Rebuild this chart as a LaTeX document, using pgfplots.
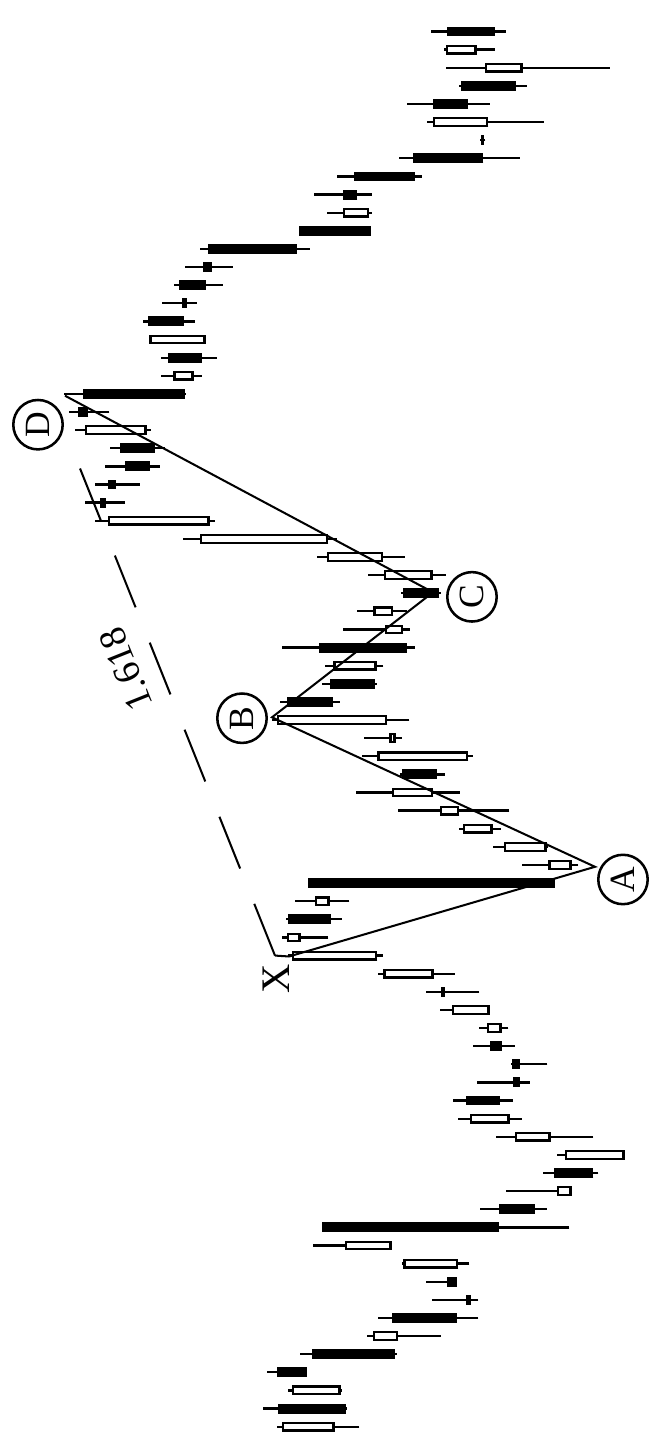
\documentclass[border=0pt]{standalone}
\usepackage{fontspec}
\setmainfont{Liberation Serif}
\usepackage{pgfplots}
\usepackage{pgfplotstable}
\pgfplotsset{compat=1.18}

% candles: t = bar number, o h l c = open high low close
\pgfplotstableread{
t o h l c
0 315 373.3 290.7 368.3
1 371.7 386.7 303.3 304
2 309.3 361.7 308.3 358.3
3 373.3 383.3 343.3 343.3
4 338.3 350 253.3 255
5 251.7 283.3 209.3 277.3
6 258.3 271.7 171.7 193.3
7 179.3 218.3 171.7 184
8 203.3 224 193.3 193.3
9 191.7 248.3 180.7 246.7
10 258.3 336.7 258.3 305
11 328.3 328.3 80.7 150.7
12 150.7 170 103.3 115
13 78.3 144 78.3 93.3
14 96 106.7 51.7 56.7
15 25 93.3 25 85
16 99.3 154 56.7 135
17 140 191.7 128.3 180
18 184 197.3 137.3 150
19 136.7 173.3 120 130
20 138.3 139.3 102.7 130
21 160 176.7 135 148.3
22 148.3 170.7 141.7 163.3
23 160 210 160 198.3
24 209 224 170.7 205
25 216 271.7 195 266.7
26 272.7 361.7 267.3 358.3
27 349.3 368.3 321.7 363.3
28 361.7 364 308.3 319.3
29 320 355 300.7 335
30 341.7 341.7 95 95
31 78.3 128.3 71.7 101.7
32 103.3 156.7 101.7 146
33 157.3 190.7 149.3 187.3
34 190.7 251.7 140.7 210
35 216.7 294 190 258.3
36 248.3 250 205 213.3
37 181.7 288.3 177.3 272.7
38 254 286 248.3 260.7
39 262.7 378.3 240.7 373.3
40 363.3 370 310 316.7
41 320 328.3 273.3 275
42 273.3 325 266.7 316.7
43 330.7 368.3 235 243.3
44 246.7 306.7 240 265
45 256.7 293.3 242.7 276.7
46 246.7 249 209 210.7
47 217.3 281.7 204 266
48 266.7 333.3 245 323.3
49 321.7 466.7 313.3 450
50 440 555 435 542
51 550 565 525 544
52 542 555 510 534
53 525 545 490 500
54 530 540 485 495
55 503.3 575 499.3 565
56 571.7 580.7 540.7 561.7
57 567.3 586 464 465
58 456 489.3 448.3 476.7
59 481.7 489.3 433.3 448.3
60 444 500.7 444 500.7
61 501.7 506.7 455 466
62 468.3 488.3 453.3 463.3
63 470.7 476 427.3 444
64 446.7 465 417.3 438.3
65 441.7 450 340 353.3
66 350.7 350.7 279.3 279.3
67 280.7 322.7 278.3 307.3
68 306.7 336 278.3 292.7
69 296 313.3 228.3 235
70 237.3 250.7 130 166.7
71 168.5 170 164.5 166
72 161.7 222.7 106 217.3
73 216.7 242.7 160 181.7
74 189.3 190.7 123.3 134
75 127.3 204 40 165
76 173.3 206 155 204
77 203.3 219.3 144 155
}\candles

\pgfplotsset{barsonly/.style={only marks, mark=*, mark size=0pt,
    mark options={draw=none, fill=none}, forget plot}}

\begin{document}
\begin{tikzpicture}
\begin{axis}[
    width=9cm, height=19.955cm, scale only axis,
    xmin=1, xmax=650, x dir=reverse,
    ymin=-0.68, ymax=78.74,
    axis line style={draw=none},
    xtick=\empty, ytick=\empty,
]

% wicks
\addplot[barsonly,
    error bars/.cd, x dir=plus, x explicit, error mark=none,
    error bar style={draw=black, line width=0.9pt}]
    table[x expr=\thisrow{l}, y=t, x error plus expr=\thisrow{h}-\thisrow{l}] \candles;

% bodies (black outline / filled)
\addplot[barsonly,
    error bars/.cd, x dir=plus, x explicit, error mark=none,
    error bar style={draw=black, line width=3.9pt}]
    table[x expr={min(\thisrow{o},\thisrow{c})}, y=t,
          x error plus expr={abs(\thisrow{c}-\thisrow{o})}] \candles;

% hollow inside of rising candles
\addplot[barsonly,
    error bars/.cd, x dir=plus, x explicit, error mark=none,
    error bar style={draw=white, line width=2.1pt}]
    table[x expr={min(\thisrow{o},\thisrow{c})+2.5}, y=t,
          x error plus expr={\thisrow{c}>\thisrow{o} ? max(0,\thisrow{c}-\thisrow{o}-5) : 0}] \candles;

% X-A-B-C-D legs
\addplot[black, line width=0.8pt, mark=none] coordinates {
    (361,25.95) (55,30.9) (378,39.15) (217,46.05) (585,56.9)
};

% 1.618 projection
\addplot[black, line width=0.8pt, mark=none] coordinates {(361,25.95) (375,26.0)};
\addplot[black, line width=0.8pt, mark=none, dash pattern=on 22pt off 15pt] coordinates {
    (375,26.0) (573,53.3)
};

\node[font=\fontsize{15}{18}\selectfont, rotate=111.8] at (axis cs:524,41.8) {1.618};

\node[font=\fontsize{16}{18}\selectfont, rotate=90] at (axis cs:373.5,24.73) {X};

\tikzset{pt/.style={circle, draw, line width=1pt, minimum size=19.5pt, inner sep=0pt,
    font=\fontsize{14}{16}\selectfont, rotate=90}}
\node[pt] at (axis cs:27,30.2) {A};
\node[pt] at (axis cs:408,39.1) {B};
\node[pt] at (axis cs:178,45.8) {C};
\node[pt] at (axis cs:612,55.3) {D};

\end{axis}
\end{tikzpicture}
\end{document}
